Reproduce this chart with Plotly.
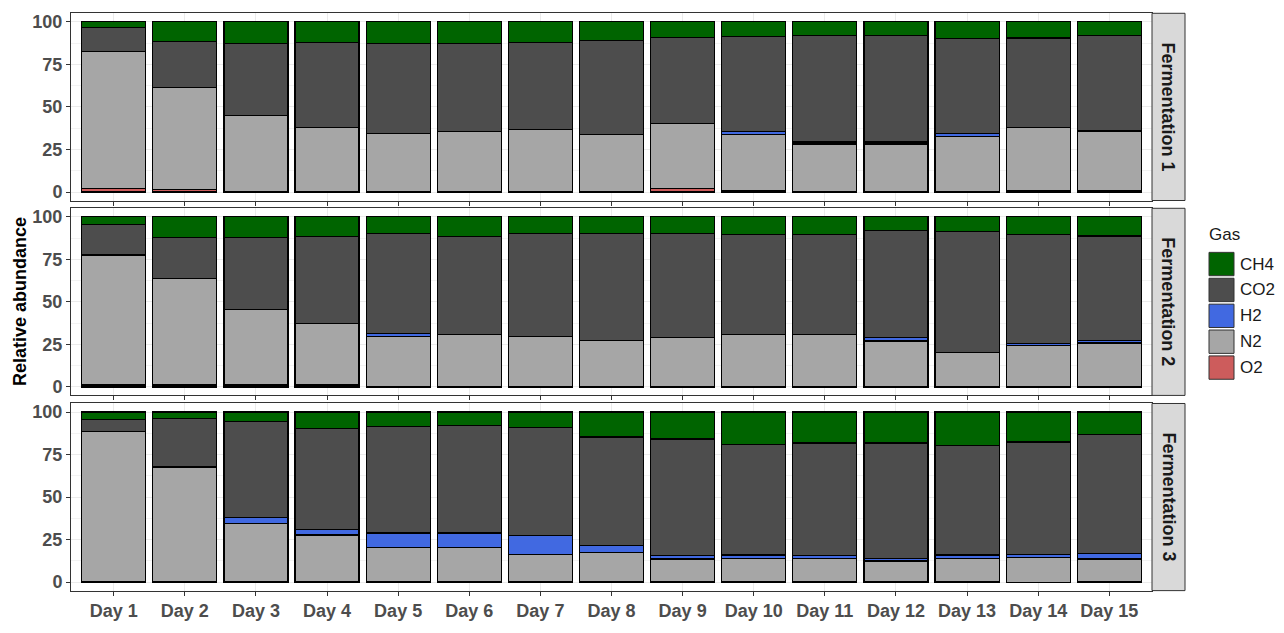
import plotly.graph_objects as go
from plotly.subplots import make_subplots

# ---------------- data (relative abundance, %) ----------------
days = [f"Day {i}" for i in range(1, 16)]
fermentations = ["Fermentation 1", "Fermentation 2", "Fermentation 3"]
gases_bottom_up = ["O2", "N2", "H2", "CO2", "CH4"]
legend_order = ["CH4", "CO2", "H2", "N2", "O2"]

f1_o2 = [2.0, 1.5, 0.4, 0.4, 0.4, 0.4, 0.4, 0.4, 1.9, 1.0, 0.4, 0.4, 0.4, 1.0, 1.0]
f1_n2 = [80.4, 60.0, 44.4, 37.6, 33.8, 35.3, 36.4, 33.2, 38.2, 32.8, 27.8, 27.8, 32.4, 37.0, 34.9]
f1_h2 = [0, 0, 0, 0, 0, 0, 0, 0, 0, 1.9, 1.2, 1.2, 1.4, 0, 0]
f1_co2 = [14.2, 27.0, 42.6, 50.0, 53.2, 51.7, 51.2, 55.5, 50.5, 55.5, 62.6, 62.6, 55.9, 52.5, 56.1]
f1_ch4 = [3.4, 11.5, 12.6, 12.0, 12.6, 12.6, 12.0, 10.9, 9.4, 8.8, 8.0, 8.0, 9.9, 9.5, 8.0]

f2_o2 = [1.1, 1.1, 1.1, 1.1, 0.4, 0.4, 0.4, 0.4, 0.4, 0.4, 0.4, 0.4, 0.4, 0.4, 0.4]
f2_n2 = [76.5, 62.6, 44.6, 36.2, 29.4, 30.4, 29.2, 26.9, 28.5, 30.4, 30.4, 26.6, 19.9, 24.1, 25.4]
f2_h2 = [0, 0, 0, 0, 1.6, 0, 0, 0, 0, 0, 0, 1.9, 0, 1.2, 1.4]
f2_co2 = [18.0, 24.1, 42.3, 51.2, 58.6, 57.7, 60.4, 62.7, 61.1, 58.7, 58.7, 63.1, 71.1, 63.8, 61.5]
f2_ch4 = [4.4, 12.2, 12.0, 11.5, 10.0, 11.5, 10.0, 10.0, 10.0, 10.5, 10.5, 8.0, 8.6, 10.5, 11.3]

f3_o2 = [0.4, 0.4, 0.4, 0.4, 0.4, 0.4, 0.4, 0.4, 0.4, 0.4, 0.4, 0.4, 0.4, 0.0, 0.4]
f3_n2 = [88.3, 67.3, 34.0, 27.3, 20.1, 20.1, 16.0, 17.2, 13.2, 13.7, 13.6, 12.0, 13.7, 14.7, 13.2]
f3_h2 = [0, 0, 3.6, 3.1, 8.4, 8.4, 11.1, 4.0, 2.1, 1.8, 1.5, 1.6, 1.8, 1.7, 3.2]
f3_co2 = [6.9, 28.5, 56.6, 59.6, 62.5, 63.1, 63.5, 63.7, 68.4, 65.2, 66.3, 67.8, 64.6, 66.0, 69.8]
f3_ch4 = [4.4, 3.8, 5.4, 9.6, 8.6, 8.0, 9.0, 14.7, 15.9, 18.9, 18.2, 18.2, 19.5, 17.6, 13.4]

panels = [
    {"O2": f1_o2, "N2": f1_n2, "H2": f1_h2, "CO2": f1_co2, "CH4": f1_ch4},
    {"O2": f2_o2, "N2": f2_n2, "H2": f2_h2, "CO2": f2_co2, "CH4": f2_ch4},
    {"O2": f3_o2, "N2": f3_n2, "H2": f3_h2, "CO2": f3_co2, "CH4": f3_ch4},
]

gas_colors = {
    "CH4": "#006400",
    "CO2": "#4D4D4D",
    "H2": "#4169E1",
    "N2": "#A6A6A6",
    "O2": "#CD5C5C",
}

# ---------------- geometry (pixels) ----------------
W, H = 1284, 633
PL, PR = 71, 1152          # plot area left/right
PT, PB = 13, 607           # plot area top/bottom
panel_px = [(13.3, 205.7), (213.7, 406.0), (414.3, 606.6)]
FONT = "Liberation Sans, Arial, sans-serif"


def px_x(px):
    return (px - PL) / (PR - PL)


def px_y(py):
    return (PB - py) / (PB - PT)


fig = make_subplots(rows=3, cols=1, shared_xaxes=True, vertical_spacing=0.01)

for r, data in enumerate(panels, start=1):
    for g in gases_bottom_up:
        fig.add_trace(
            go.Bar(
                x=days,
                y=data[g],
                name=g,
                width=0.9,
                marker=dict(color=gas_colors[g], line=dict(color="black", width=1.2)),
                showlegend=False,
            ),
            row=r,
            col=1,
        )

axis_line = "#333333"
tick_font = dict(family=FONT, size=18, color="#4D4D4D", weight="bold")

for r in range(1, 4):
    top, bot = panel_px[r - 1]
    fig.update_yaxes(
        domain=[px_y(bot), px_y(top)],
        range=[-5, 105],
        tickvals=[0, 25, 50, 75, 100],
        ticks="outside",
        ticklen=4,
        tickwidth=1,
        tickcolor=axis_line,
        tickfont=tick_font,
        showgrid=True,
        gridcolor="#EBEBEB",
        gridwidth=1,
        minor=dict(tickvals=[12.5, 37.5, 62.5, 87.5], showgrid=True, gridcolor="#F3F3F3", gridwidth=0.6),
        zeroline=False,
        showline=True,
        mirror=True,
        linecolor=axis_line,
        linewidth=1,
        row=r,
        col=1,
    )
    fig.update_xaxes(
        type="category",
        range=[-0.6, 14.6],
        ticks="outside",
        ticklen=4,
        tickwidth=1,
        tickcolor=axis_line,
        tickfont=tick_font,
        showticklabels=(r == 3),
        showgrid=True,
        gridcolor="#EBEBEB",
        gridwidth=1,
        zeroline=False,
        showline=True,
        mirror=True,
        linecolor=axis_line,
        linewidth=1,
        row=r,
        col=1,
    )

shapes = []
annotations = []

# facet strips on the right
for (top, bot), label in zip(panel_px, fermentations):
    shapes.append(dict(type="rect", xref="paper", yref="paper",
                       x0=px_x(1152), x1=px_x(1185), y0=px_y(bot), y1=px_y(top),
                       fillcolor="#D9D9D9", line=dict(color=axis_line, width=1), layer="above"))
    annotations.append(dict(xref="paper", yref="paper", x=px_x(1168.5), y=px_y((top + bot) / 2),
                            text=label, textangle=90, showarrow=False,
                            font=dict(family=FONT, size=18, color="#1A1A1A", weight="bold"),
                            xanchor="center", yanchor="middle"))

# y-axis title
annotations.append(dict(xref="paper", yref="paper", x=px_x(20), y=px_y((panel_px[0][0] + panel_px[2][1]) / 2),
                        text="Relative abundance", textangle=-90, showarrow=False,
                        font=dict(family=FONT, size=18, color="black", weight="bold"),
                        xanchor="center", yanchor="middle"))

# legend
legend_font = dict(family=FONT, size=17, color="#1A1A1A")
annotations.append(dict(xref="paper", yref="paper", x=px_x(1207), y=px_y(241), text="Gas",
                        showarrow=False, font=legend_font, xanchor="left", yanchor="middle"))
key_top0, key_pitch, key_size = 259, 26.6, 24
for i, g in enumerate(legend_order):
    t = key_top0 + i * key_pitch
    shapes.append(dict(type="rect", xref="paper", yref="paper",
                       x0=px_x(1209), x1=px_x(1234), y0=px_y(t + key_size), y1=px_y(t),
                       fillcolor=gas_colors[g], line=dict(color="#333333", width=1)))
    annotations.append(dict(xref="paper", yref="paper", x=px_x(1238), y=px_y(t + key_size / 2),
                            text=g, showarrow=False, font=legend_font,
                            xanchor="left", yanchor="middle"))

fig.update_layout(
    width=W,
    height=H,
    margin=dict(l=PL, r=W - PR, t=PT, b=H - PB, pad=0),
    barmode="stack",
    bargap=0.1,
    paper_bgcolor="white",
    plot_bgcolor="white",
    showlegend=False,
    shapes=shapes,
    annotations=annotations,
)

fig.write_html("out.html")
